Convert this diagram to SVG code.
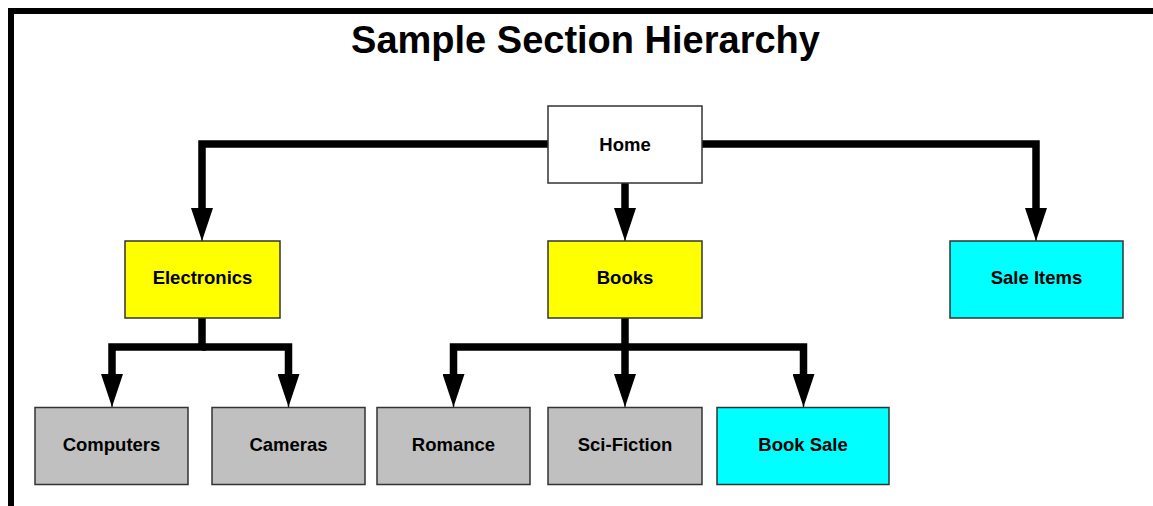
<svg xmlns="http://www.w3.org/2000/svg" width="1153" height="506" viewBox="0 0 1153 506">
  <defs>
    <style>
      .frame { fill: #ffffff; stroke: #000000; stroke-width: 6; }
      .title { font-family: "Liberation Sans", Arial, sans-serif; font-weight: bold; font-size: 38px; fill: #000000; text-anchor: middle; }
      .box { stroke: #333333; stroke-width: 1.5; }
      .white { fill: #ffffff; }
      .yellow { fill: #ffff00; }
      .cyan { fill: #00ffff; }
      .gray { fill: #c0c0c0; }
      .label { font-family: "Liberation Sans", Arial, sans-serif; font-weight: bold; font-size: 18.5px; fill: #000000; text-anchor: middle; }
      .wire { fill: none; stroke: #000000; stroke-width: 7.5; stroke-linejoin: miter; stroke-linecap: butt; }
    </style>
    <!-- arrowhead drawn along +x; its base sits on the end of the wire -->
    <marker id="head" viewBox="0 0 34 22" refX="0" refY="11" markerWidth="34" markerHeight="22" markerUnits="userSpaceOnUse" orient="auto">
      <path d="M0,0 L30,10 L33.5,10.5 L33.5,11.5 L30,12 L0,22 Z" fill="#000000"/>
    </marker>
  </defs>

  <!-- outer frame, running off the right and bottom edges -->
  <rect class="frame" x="11" y="11" width="1160" height="520"/>

  <text class="title" x="585.5" y="53">Sample Section Hierarchy</text>

  <!-- connectors -->
  <g id="connectors">
    <path class="wire" d="M548,144 H202 V208" marker-end="url(#head)"/>
    <path class="wire" d="M702,144 H1036 V208" marker-end="url(#head)"/>
    <path class="wire" d="M625,183 V208" marker-end="url(#head)"/>
    <path class="wire" d="M202,318 V347 H112 V374" marker-end="url(#head)"/>
    <path class="wire" d="M202,347 H288.5 V374" marker-end="url(#head)"/>
    <path class="wire" d="M625,318 V374" marker-end="url(#head)"/>
    <path class="wire" d="M625,347 H453.5 V374" marker-end="url(#head)"/>
    <path class="wire" d="M625,347 H803.5 V374" marker-end="url(#head)"/>
  </g>

  <g id="home">
    <rect class="box white" x="548" y="106" width="154" height="77"/>
    <text class="label" x="625" y="150.5">Home</text>
  </g>
  <g id="electronics">
    <rect class="box yellow" x="125" y="241" width="155" height="77"/>
    <text class="label" x="202.5" y="283.5">Electronics</text>
  </g>
  <g id="books">
    <rect class="box yellow" x="548" y="241" width="154" height="77"/>
    <text class="label" x="625" y="283.5">Books</text>
  </g>
  <g id="sale-items">
    <rect class="box cyan" x="950" y="241" width="173" height="77"/>
    <text class="label" x="1036.5" y="283.5">Sale Items</text>
  </g>
  <g id="computers">
    <rect class="box gray" x="35" y="407.5" width="153" height="77"/>
    <text class="label" x="111.5" y="451">Computers</text>
  </g>
  <g id="cameras">
    <rect class="box gray" x="212" y="407.5" width="153" height="77"/>
    <text class="label" x="288.5" y="451">Cameras</text>
  </g>
  <g id="romance">
    <rect class="box gray" x="377" y="407.5" width="153" height="77"/>
    <text class="label" x="453.5" y="451">Romance</text>
  </g>
  <g id="sci-fiction">
    <rect class="box gray" x="548" y="407.5" width="154" height="77"/>
    <text class="label" x="625" y="451">Sci-Fiction</text>
  </g>
  <g id="book-sale">
    <rect class="box cyan" x="717" y="407.5" width="172" height="77"/>
    <text class="label" x="803" y="451">Book Sale</text>
  </g>
</svg>
